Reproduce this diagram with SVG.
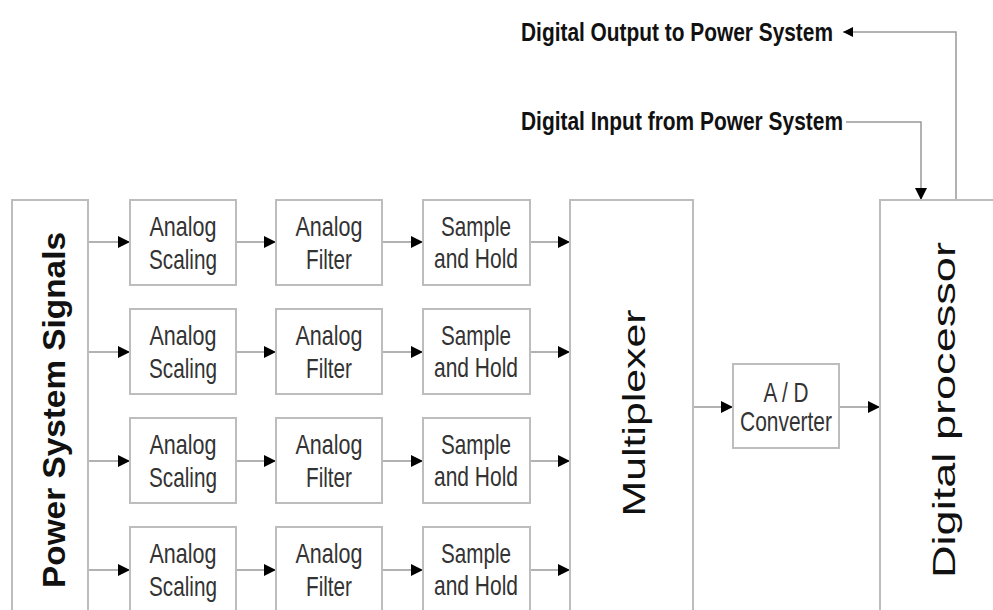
<svg xmlns="http://www.w3.org/2000/svg" width="993" height="610" viewBox="0 0 993 610">
<defs>
<marker id="ah" markerWidth="12" markerHeight="12" refX="12" refY="6" orient="auto" markerUnits="userSpaceOnUse">
<path d="M0,0 L12,6 L0,12 Z" fill="#000"/>
</marker>
<marker id="ahs" markerWidth="10" markerHeight="10" refX="10" refY="5" orient="auto" markerUnits="userSpaceOnUse">
<path d="M0,0 L10,5 L0,10 Z" fill="#000"/>
</marker>
</defs>
<style>
.box{fill:#fff;stroke:#bdbdbd;stroke-width:2}
.bt{font-family:"Liberation Sans",Arial,sans-serif;font-size:28px;fill:#333;text-anchor:middle}
.vt{font-family:"Liberation Sans",Arial,sans-serif;font-size:31px;fill:#111;text-anchor:middle}
.tt{font-family:"Liberation Sans",Arial,sans-serif;font-size:26px;font-weight:bold;fill:#111}
.ln{stroke:#999;stroke-width:1.5;fill:none}
</style>
<rect width="993" height="610" fill="#fff"/>

<g id="connectors">
<path class="ln" d="M88,242 H130" marker-end="url(#ah)"/>
<path class="ln" d="M88,352 H130" marker-end="url(#ah)"/>
<path class="ln" d="M88,461 H130" marker-end="url(#ah)"/>
<path class="ln" d="M88,570 H130" marker-end="url(#ah)"/>
<path class="ln" d="M236,242 H276" marker-end="url(#ah)"/>
<path class="ln" d="M236,352 H276" marker-end="url(#ah)"/>
<path class="ln" d="M236,461 H276" marker-end="url(#ah)"/>
<path class="ln" d="M236,570 H276" marker-end="url(#ah)"/>
<path class="ln" d="M382,242 H423" marker-end="url(#ah)"/>
<path class="ln" d="M382,352 H423" marker-end="url(#ah)"/>
<path class="ln" d="M382,461 H423" marker-end="url(#ah)"/>
<path class="ln" d="M382,570 H423" marker-end="url(#ah)"/>
<path class="ln" d="M530,242 H570" marker-end="url(#ah)"/>
<path class="ln" d="M530,352 H570" marker-end="url(#ah)"/>
<path class="ln" d="M530,461 H570" marker-end="url(#ah)"/>
<path class="ln" d="M530,570 H570" marker-end="url(#ah)"/>
<path class="ln" d="M693,407 H733" marker-end="url(#ah)"/>
<path class="ln" d="M839,407 H880" marker-end="url(#ah)"/>
<path class="ln" d="M956,200 V32 H843" marker-end="url(#ahs)"/>
<path class="ln" d="M846,122 H921 V200" marker-end="url(#ah)"/>
</g>

<g id="power-system-signals">
<rect class="box" x="12" y="200" width="76" height="420"/>
<text class="vt" font-weight="bold" font-size="32" transform="translate(65,410) rotate(-90)" textLength="356" lengthAdjust="spacingAndGlyphs">Power System Signals</text>
</g>

<g id="scaling-1"><rect class="box" x="130" y="200" width="106" height="85"/><text class="bt" x="183" y="236" textLength="67" lengthAdjust="spacingAndGlyphs">Analog</text><text class="bt" x="183" y="269" textLength="68" lengthAdjust="spacingAndGlyphs">Scaling</text></g>
<g id="scaling-2"><rect class="box" x="130" y="309" width="106" height="85"/><text class="bt" x="183" y="345" textLength="67" lengthAdjust="spacingAndGlyphs">Analog</text><text class="bt" x="183" y="378" textLength="68" lengthAdjust="spacingAndGlyphs">Scaling</text></g>
<g id="scaling-3"><rect class="box" x="130" y="418" width="106" height="85"/><text class="bt" x="183" y="454" textLength="67" lengthAdjust="spacingAndGlyphs">Analog</text><text class="bt" x="183" y="487" textLength="68" lengthAdjust="spacingAndGlyphs">Scaling</text></g>
<g id="scaling-4"><rect class="box" x="130" y="527" width="106" height="85"/><text class="bt" x="183" y="563" textLength="67" lengthAdjust="spacingAndGlyphs">Analog</text><text class="bt" x="183" y="596" textLength="68" lengthAdjust="spacingAndGlyphs">Scaling</text></g>

<g id="filter-1"><rect class="box" x="276" y="200" width="106" height="85"/><text class="bt" x="329" y="236" textLength="67" lengthAdjust="spacingAndGlyphs">Analog</text><text class="bt" x="329" y="269" textLength="46" lengthAdjust="spacingAndGlyphs">Filter</text></g>
<g id="filter-2"><rect class="box" x="276" y="309" width="106" height="85"/><text class="bt" x="329" y="345" textLength="67" lengthAdjust="spacingAndGlyphs">Analog</text><text class="bt" x="329" y="378" textLength="46" lengthAdjust="spacingAndGlyphs">Filter</text></g>
<g id="filter-3"><rect class="box" x="276" y="418" width="106" height="85"/><text class="bt" x="329" y="454" textLength="67" lengthAdjust="spacingAndGlyphs">Analog</text><text class="bt" x="329" y="487" textLength="46" lengthAdjust="spacingAndGlyphs">Filter</text></g>
<g id="filter-4"><rect class="box" x="276" y="527" width="106" height="85"/><text class="bt" x="329" y="563" textLength="67" lengthAdjust="spacingAndGlyphs">Analog</text><text class="bt" x="329" y="596" textLength="46" lengthAdjust="spacingAndGlyphs">Filter</text></g>

<g id="sh-1"><rect class="box" x="423" y="200" width="107" height="85"/><text class="bt" x="476" y="236" textLength="70" lengthAdjust="spacingAndGlyphs">Sample</text><text class="bt" x="476" y="268" textLength="84" lengthAdjust="spacingAndGlyphs">and Hold</text></g>
<g id="sh-2"><rect class="box" x="423" y="309" width="107" height="85"/><text class="bt" x="476" y="345" textLength="70" lengthAdjust="spacingAndGlyphs">Sample</text><text class="bt" x="476" y="377" textLength="84" lengthAdjust="spacingAndGlyphs">and Hold</text></g>
<g id="sh-3"><rect class="box" x="423" y="418" width="107" height="85"/><text class="bt" x="476" y="454" textLength="70" lengthAdjust="spacingAndGlyphs">Sample</text><text class="bt" x="476" y="486" textLength="84" lengthAdjust="spacingAndGlyphs">and Hold</text></g>
<g id="sh-4"><rect class="box" x="423" y="527" width="107" height="85"/><text class="bt" x="476" y="563" textLength="70" lengthAdjust="spacingAndGlyphs">Sample</text><text class="bt" x="476" y="595" textLength="84" lengthAdjust="spacingAndGlyphs">and Hold</text></g>

<g id="multiplexer">
<rect class="box" x="570" y="200" width="123" height="420"/>
<text class="vt" transform="translate(645,413) rotate(-90)" textLength="207" lengthAdjust="spacingAndGlyphs">Multiplexer</text>
</g>

<g id="ad-converter">
<rect class="box" x="733" y="364" width="106" height="84"/>
<text class="bt" font-size="25" x="786" y="402" textLength="45" lengthAdjust="spacingAndGlyphs">A / D</text>
<text class="bt" font-size="25" x="786" y="431" textLength="92" lengthAdjust="spacingAndGlyphs">Converter</text>
</g>

<g id="digital-processor">
<rect class="box" x="880" y="200" width="130" height="420"/>
<text class="vt" transform="translate(955,410) rotate(-90)" textLength="336" lengthAdjust="spacingAndGlyphs">Digital processor</text>
</g>

<g id="digital-output-label">
<text class="tt" x="521" y="41" textLength="312" lengthAdjust="spacingAndGlyphs">Digital Output to Power System</text>
</g>
<g id="digital-input-label">
<text class="tt" x="521" y="130" textLength="322" lengthAdjust="spacingAndGlyphs">Digital Input from Power System</text>
</g>
</svg>
